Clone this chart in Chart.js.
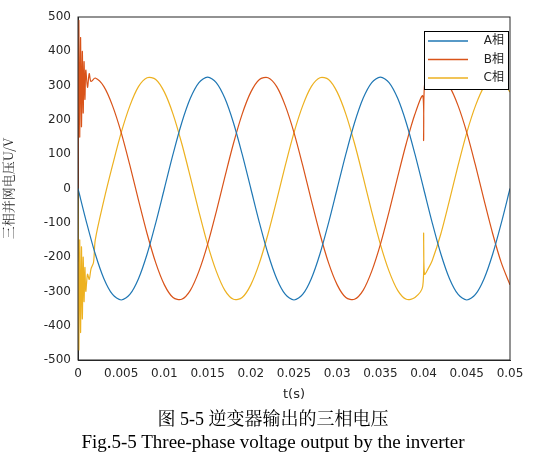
<!DOCTYPE html>
<html><head><meta charset="utf-8">
<script src="https://cdn.jsdelivr.net/npm/chart.js@4/dist/chart.umd.min.js"></script>
<style>
body{margin:0;background:#fff;width:546px;height:463px;overflow:hidden}
#wrap{position:absolute;left:0;top:0;width:546px;height:406px}
.cap{position:absolute;left:0;width:546px;text-align:center;font-family:"Liberation Serif","Noto Serif CJK SC","Noto Sans CJK SC",serif;color:#000}
</style></head><body>
<div id="wrap"><canvas id="c"></canvas></div>
<div class="cap" style="top:404px;font-size:18px">图 5-5 逆变器输出的三相电压</div>
<div class="cap" style="top:431px;font-size:19px">Fig.5-5 Three-phase voltage output by the inverter</div>
<script>
const seriesNames = ["A相","B相","C相"];
const tA = [0,0.001,0.002,0.003,0.004,0.005,0.006,0.007,0.008,0.009,0.010,0.011,0.012,0.013,0.014,0.015,0.016,0.017,0.018,0.019,0.020,0.021,0.022,0.023,0.024,0.025,0.026,0.027,0.028,0.029,0.030,0.031,0.032,0.033,0.034,0.035,0.036,0.037,0.038,0.039,0.040,0.041,0.042,0.043,0.044,0.045,0.046,0.047,0.048,0.049,0.050];
const vA = [0,-100,-191,-263,-309,-325,-309,-263,-191,-100,0,100,191,263,309,325,309,263,191,100,0,-100,-191,-263,-309,-325,-309,-263,-191,-100,0,100,191,263,309,325,309,263,191,100,0,-100,-191,-263,-309,-325,-309,-263,-191,-100,0];
const tB = [0,0.0001,0.0002,0.0003,0.0004,0.0005,0.0006,0.0007,0.0008,0.0009,0.0011,0.0013,0.0015,0.002,0.003,0.004,0.005,0.006,0.007,0.008,0.009,0.010,0.011,0.012,0.013,0.014,0.015,0.016,0.017,0.018,0.019,0.020,0.021,0.022,0.023,0.024,0.025,0.026,0.027,0.028,0.029,0.030,0.031,0.032,0.033,0.034,0.035,0.036,0.037,0.038,0.039,0.0399,0.04,0.0401,0.0405,0.041,0.042,0.043,0.044,0.045,0.046,0.047,0.048,0.049,0.050];
const vB = [0,490,150,440,180,400,220,370,260,345,295,335,312,322,297,241,163,68,-34,-132,-217,-281,-318,-323,-297,-241,-163,-68,34,132,217,281,318,323,297,241,163,68,-34,-132,-217,-281,-318,-323,-297,-241,-163,-68,34,132,217,270,140,300,295,318,323,297,241,163,68,-34,-132,-217,-281];
const tC = [0,0.0001,0.0002,0.0003,0.0004,0.0005,0.0006,0.0007,0.0008,0.0009,0.0011,0.0013,0.0015,0.0018,0.002,0.003,0.004,0.005,0.006,0.007,0.008,0.009,0.010,0.011,0.012,0.013,0.014,0.015,0.016,0.017,0.018,0.019,0.020,0.021,0.022,0.023,0.024,0.025,0.026,0.027,0.028,0.029,0.030,0.031,0.032,0.033,0.034,0.035,0.036,0.037,0.038,0.039,0.0399,0.04,0.0401,0.0405,0.041,0.042,0.043,0.044,0.045,0.046,0.047,0.048,0.049,0.050];
const vC = [0,-470,-150,-420,-170,-380,-200,-330,-230,-300,-250,-265,-235,-215,-150,-34,68,163,241,297,323,318,281,217,132,34,-68,-163,-241,-297,-323,-318,-281,-217,-132,-34,68,163,241,297,323,318,281,217,132,34,-68,-163,-241,-297,-323,-318,-285,-130,-250,-235,-210,-132,-34,68,163,241,297,323,318,281];
const xTicks = [0,0.005,0.01,0.015,0.02,0.025,0.03,0.035,0.04,0.045,0.05];
const yTicks = [-500,-400,-300,-200,-100,0,100,200,300,400,500];
const colors = ["#1f77b4","#D95319","#EDB120"];
const pts = (t,v)=>t.map((x,i)=>({x,y:v[i]}));
const legendPlugin={id:'lg',afterDraw(ch){const c=ch.ctx,a=ch.chartArea;const w=84,h=58,x=a.right-w-2,y=a.top+14;
c.save();c.fillStyle='#fff';c.fillRect(x,y,w,h);c.strokeStyle='#000';c.lineWidth=1;c.strokeRect(x+.5,y+.5,w,h);
c.font='12px "DejaVu Sans","Noto Sans CJK SC"';c.textBaseline='middle';c.textAlign='right';
seriesNames.forEach((n,i)=>{const yy=y+10+i*18.5;c.strokeStyle=colors[i];c.lineWidth=1.5;c.beginPath();c.moveTo(x+4,yy);c.lineTo(x+44,yy);c.stroke();c.fillStyle='#222';c.fillText(n,x+w-4,yy);});
c.restore();}};
new Chart(document.getElementById('c'),{type:'scatter',
data:{datasets:[pts(tA,vA),pts(tB,vB),pts(tC,vC)].map((d,i)=>({label:seriesNames[i],data:d,showLine:true,borderColor:colors[i],borderWidth:1.2,pointRadius:0,tension:0.3}))},
options:{responsive:true,maintainAspectRatio:false,animation:false,
layout:{padding:{top:17,right:36,left:0,bottom:0}},
plugins:{legend:{display:false},tooltip:{enabled:false}},
scales:{
x:{type:'linear',min:0,max:0.05,afterBuildTicks:a=>{a.ticks=xTicks.map(v=>({value:v}))},
 grid:{display:false,drawTicks:true,tickLength:4},border:{color:'#262626'},
 ticks:{color:'#262626',font:{size:12,family:'"DejaVu Sans"'},maxRotation:0,callback:v=>String(v)},
 title:{display:true,text:'t(s)',color:'#262626',font:{size:13,family:'"DejaVu Sans"'},padding:{top:2}}},
y:{min:-500,max:500,afterBuildTicks:a=>{a.ticks=yTicks.map(v=>({value:v}))},afterFit:a=>{a.width=78},
 grid:{display:false,tickLength:4},border:{color:'#262626'},
 ticks:{color:'#262626',font:{size:12,family:'"DejaVu Sans"'}},
 title:{display:true,text:'三相并网电压U/V',color:'#262626',font:{size:13,family:'"Noto Serif CJK SC","Noto Sans CJK SC"'},padding:0}}}},
plugins:[legendPlugin,{id:'box',afterDraw(ch){const c=ch.ctx,a=ch.chartArea;c.save();c.strokeStyle='#262626';c.lineWidth=1;c.strokeRect(a.left,a.top,a.right-a.left,a.bottom-a.top);c.restore();}}]});
</script></body></html>
